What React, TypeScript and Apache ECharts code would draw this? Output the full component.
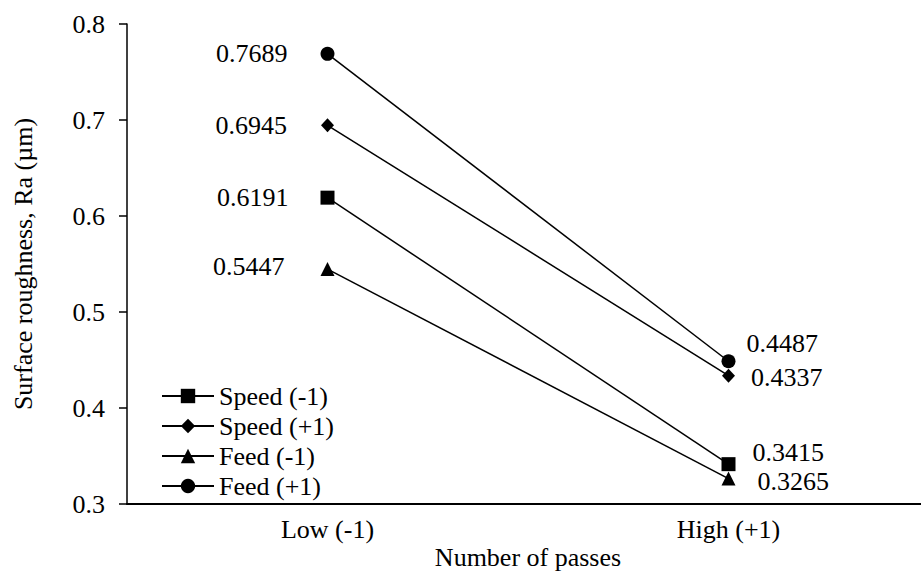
import React, { useEffect, useRef } from "react";
import * as echarts from "echarts";

const categories = ["Low (-1)", "High (+1)"];
const seriesNames = ["Speed (-1)", "Speed (+1)", "Feed (-1)", "Feed (+1)"];
const speedLow = [0.6191, 0.3415];
const speedHigh = [0.6945, 0.4337];
const feedLow = [0.5447, 0.3265];
const feedHigh = [0.7689, 0.4487];

const FONT = "Liberation Serif";
const FS = 26;

export default function App() {
  const ref = useRef<HTMLDivElement>(null);
  useEffect(() => {
    if (!ref.current) return;
    const chart = echarts.init(ref.current, undefined, { renderer: "svg" });
    const values = [speedLow, speedHigh, feedLow, feedHigh];
    const symbols = ["rect", "diamond", "triangle", "circle"];
    const symbolSizes = [14, [13, 14], 14, 14];
    // label placement per series, per point: [position, distance, offsetY]
    const labelPlace: [string, number, number][][] = [
      [["left", 32, 0], ["right", 17, -12]],
      [["left", 34, 0], ["right", 16, 2]],
      [["left", 36, -3], ["right", 22, 3]],
      [["left", 33, 0], ["right", 11, -18]],
    ];
    const series = values.map((vals, si) => ({
      name: seriesNames[si],
      type: "line",
      symbol: symbols[si],
      symbolSize: symbolSizes[si],
      lineStyle: { color: "#000", width: 1.5 },
      itemStyle: { color: "#000" },
      data: vals.map((v, i) => ({
        value: v,
        label: {
          show: true,
          position: labelPlace[si][i][0],
          distance: labelPlace[si][i][1],
          offset: [0, labelPlace[si][i][2]],
          formatter: (p: any) => Number(p.value).toFixed(4),
          fontFamily: FONT,
          fontSize: FS,
          color: "#000",
        },
      })),
    }));
    chart.setOption({
      animation: false,
      backgroundColor: "#fff",
      textStyle: { fontFamily: FONT, color: "#000" },
      grid: {
        left: 127,
        top: 24,
        width: 802,
        height: 480,
        containLabel: false,
        outerBoundsMode: "none",
      },
      legend: {
        orient: "vertical",
        left: 156,
        top: 378,
        itemWidth: 52,
        itemHeight: 18,
        itemGap: 4,
        data: seriesNames,
        textStyle: { fontFamily: FONT, fontSize: FS, color: "#000", lineHeight: 24 },
      },
      xAxis: {
        type: "category",
        data: categories,
        boundaryGap: true,
        name: "Number of passes",
        nameLocation: "middle",
        nameGap: 40,
        nameMoveOverlap: false,
        nameTextStyle: { fontFamily: FONT, fontSize: FS, color: "#000" },
        axisLine: { lineStyle: { color: "#000", width: 2 } },
        axisTick: { alignWithLabel: true, length: 5, lineStyle: { color: "#000", width: 1.5 } },
        axisLabel: { fontFamily: FONT, fontSize: FS, color: "#000", margin: 12 },
        splitLine: { show: false },
      },
      yAxis: {
        type: "value",
        min: 0.3,
        max: 0.8,
        interval: 0.1,
        name: "Surface roughness, Ra (µm)",
        nameLocation: "middle",
        nameGap: 91,
        nameRotate: 90,
        nameMoveOverlap: false,
        nameTextStyle: { fontFamily: FONT, fontSize: FS, color: "#000" },
        axisLine: { show: true, lineStyle: { color: "#000", width: 1.5 } },
        axisTick: { show: true, length: 8, lineStyle: { color: "#000", width: 1.5 } },
        axisLabel: {
          fontFamily: FONT,
          fontSize: FS,
          color: "#000",
          margin: 22,
          formatter: (v: number) => v.toFixed(1),
        },
        splitLine: { show: false },
      },
      series,
    });
    return () => chart.dispose();
  }, []);
  return <div ref={ref} style={{ width: 921, height: 572, position: "absolute", left: 0, top: 0 }} />;
}
